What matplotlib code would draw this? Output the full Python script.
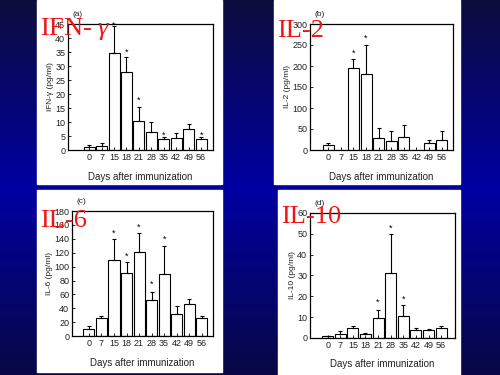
import matplotlib.pyplot as plt
import numpy as np
from matplotlib.colors import LinearSegmentedColormap

plt.rcParams['font.family'] = ['Liberation Sans', 'DejaVu Sans']
plt.rcParams['mathtext.fontset'] = 'custom'
plt.rcParams['mathtext.rm'] = 'Liberation Serif'
plt.rcParams['mathtext.it'] = 'Liberation Serif:italic'

days = ["0", "7", "15", "18", "21", "28", "35", "42", "49", "56"]

# mean values and top of the error bar for each cytokine
ifn_mean = [1.2, 1.5, 34.5, 27.7, 10.5, 6.5, 3.8, 4.4, 7.6, 3.8]
ifn_top = [1.8, 2.6, 44.3, 33.1, 15.2, 10.1, 4.8, 6.0, 9.2, 4.6]
ifn_star = [None, None, 44.6, 35.0, 17.9, None, 5.4, None, None, 5.3]

il2_mean = [12, 0, 196, 182, 28, 22, 31, 0, 16, 23]
il2_top = [16, 0, 216, 250, 53, 46, 59, 0, 25, 46]
il2_star = [None, None, 230, 267, None, None, None, None, None, None]

il6_mean = [10, 26, 110, 91, 121, 52, 89.5, 31, 46, 26]
il6_top = [13.8, 28.6, 139.5, 107, 149, 63.3, 130, 43.3, 53, 29]
il6_star = [None, None, 148, 115, 157, 74, 139.5, None, None, None]

il10_mean = [0.8, 1.8, 4.8, 2.1, 9.6, 31.4, 10.6, 3.8, 3.8, 4.6]
il10_top = [0.9, 3.2, 5.8, 2.4, 13.6, 50, 15.7, 4.6, 4.5, 5.8]
il10_star = [None, None, None, None, 17.0, 52.8, 18.7, None, None, None]

fig = plt.figure(figsize=(5, 3.75), dpi=100)

# blue slide background, dark at top and bottom
bg = fig.add_axes([0, 0, 1, 1])
cmap = LinearSegmentedColormap.from_list("slide", [(0.05, 0.05, 0.24), (0.0, 0.0, 0.64), (0.03, 0.03, 0.27)])
bg.imshow(np.linspace(0, 1, 256).reshape(-1, 1), aspect="auto", cmap=cmap, extent=[0, 1, 0, 1])
bg.set_xlim(0, 1)
bg.set_ylim(0, 1)
bg.axis("off")

# white boxes behind each graph
for rect in [[0.074, 0.509, 0.37, 0.491], [0.548, 0.509, 0.372, 0.491],
             [0.074, 0.008, 0.37, 0.485], [0.556, 0.0, 0.364, 0.493]]:
    bg.add_patch(plt.Rectangle((rect[0], rect[1]), rect[2], rect[3], color="white", zorder=2))

def drawPanel(pos, mean, top, star, ymax, step, xlim, ylabel, letter):
    ax = fig.add_axes(pos)
    x = np.arange(len(days))
    err = [np.zeros(len(mean)), np.array(top) - np.array(mean)]
    ax.bar(x, mean, width=0.88, color="white", edgecolor="black", linewidth=0.8)
    show = [i for i in range(len(mean)) if mean[i] > 0]
    ax.errorbar(x[show], np.array(mean)[show], yerr=[err[0][show], err[1][show]], fmt="none",
                ecolor="black", elinewidth=0.8, capsize=1.5, capthick=0.8)
    for i, s in enumerate(star):
        if s is not None:
            ax.text(x[i], s, "*", ha="center", va="center", fontsize=6.5)
    ax.set_xlim(xlim)
    ax.set_ylim(0, ymax)
    ax.set_yticks(np.arange(0, ymax + 1, step))
    ax.set_xticks(x)
    ax.set_xticklabels(days)
    ax.tick_params(direction="in", length=2, width=0.6, labelsize=6.5, pad=2, labelcolor="#222222")
    for sp in ax.spines.values():
        sp.set_linewidth(0.9)
    ax.set_xlabel("Days after immunization", fontsize=7, labelpad=7, color="#222222")
    ax.set_ylabel(ylabel, fontsize=6, labelpad=1, color="#222222")
    ax.text(0.03, 1.05, letter, transform=ax.transAxes, fontsize=6, ha="left", va="bottom", color="#222222")
    return ax

drawPanel([0.136, 0.6, 0.29, 0.336], ifn_mean, ifn_top, ifn_star, 45, 5, (-1.7, 9.95), "IFN-\u03b3 (pg/ml)", "(a)")
drawPanel([0.62, 0.6, 0.286, 0.336], il2_mean, il2_top, il2_star, 300, 50, (-1.45, 9.9), "IL-2 (pg/ml)", "(b)")
drawPanel([0.144, 0.104, 0.282, 0.333], il6_mean, il6_top, il6_star, 180, 20, (-1.35, 9.9), "IL-6 (pg/ml)", "(c)")
drawPanel([0.62, 0.099, 0.29, 0.333], il10_mean, il10_top, il10_star, 60, 10, (-1.4, 10.1), "IL-10 (pg/ml)", "(d)")

# red slide titles over the graphs
red = "#f01414"
fig.text(40 / 500, 1 - 35 / 375, r"IFN- $\mathit{\gamma}$", color=red, fontsize=19, family="Liberation Serif", va="baseline")
fig.text(277 / 500, 1 - 37 / 375, "IL-2", color=red, fontsize=19, family="Liberation Serif", va="baseline")
fig.text(40 / 500, 1 - 227 / 375, "IL-6", color=red, fontsize=19, family="Liberation Serif", va="baseline")
fig.text(281 / 500, 1 - 223 / 375, "IL-10", color=red, fontsize=19, family="Liberation Serif", va="baseline")

fig.savefig("out.png", dpi=100)
